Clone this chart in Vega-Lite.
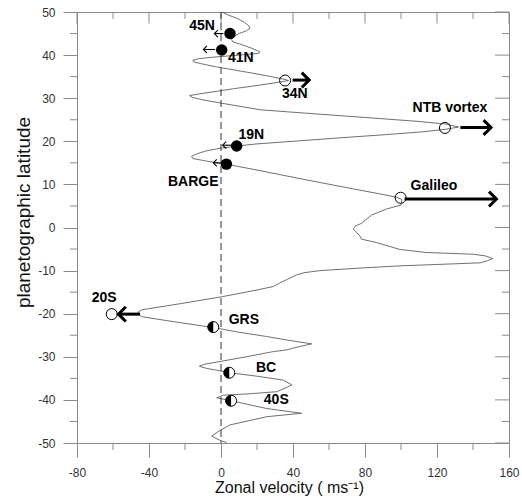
{
  "$schema": "https://vega.github.io/schema/vega-lite/v6.json",
  "width": 432,
  "height": 431,
  "autosize": {"type": "none"},
  "padding": {"left": 77, "top": 12, "right": 13, "bottom": 56},
  "background": "white",
  "config": {
    "view": {"stroke": "#8a8a8a", "strokeWidth": 1},
    "font": "Liberation Sans",
    "axis": {
      "domainColor": "#8a8a8a",
      "tickColor": "#8a8a8a",
      "labelColor": "#333333",
      "labelFontSize": 12,
      "labelFont": "Liberation Sans",
      "titleFont": "Liberation Sans",
      "titleColor": "#111111",
      "titleFontWeight": "normal",
      "labelFlush": false,
      "labelOverlap": false,
      "labelBound": false,
      "grid": false,
      "tickWidth": 1,
      "domainWidth": 1
    }
  },
  "datasets": {
    "profile": [
      {"lat": 50, "u": 0.4}, {"lat": 49.3, "u": 4}, {"lat": 48.5, "u": 9}, {"lat": 47.6, "u": 13},
      {"lat": 46.8, "u": 15.5}, {"lat": 46.2, "u": 16}, {"lat": 45.6, "u": 14}, {"lat": 45, "u": 10},
      {"lat": 44.3, "u": 7}, {"lat": 43.6, "u": 5.9}, {"lat": 43.1, "u": 6.5}, {"lat": 42.5, "u": 11},
      {"lat": 41.6, "u": 17}, {"lat": 40.8, "u": 21.5}, {"lat": 40.4, "u": 21}, {"lat": 40, "u": 10},
      {"lat": 39.6, "u": -2}, {"lat": 39.2, "u": -12}, {"lat": 38.8, "u": -15.7}, {"lat": 38.4, "u": -15},
      {"lat": 38, "u": -11}, {"lat": 37.3, "u": -3}, {"lat": 36.5, "u": 8}, {"lat": 35.7, "u": 19},
      {"lat": 35, "u": 28}, {"lat": 34.4, "u": 35}, {"lat": 34.1, "u": 37.5}, {"lat": 33.7, "u": 32},
      {"lat": 33, "u": 21}, {"lat": 32.2, "u": 7}, {"lat": 31.5, "u": -4}, {"lat": 31, "u": -12},
      {"lat": 30.6, "u": -17.5}, {"lat": 30.2, "u": -16}, {"lat": 29.6, "u": -10}, {"lat": 28.5, "u": 5},
      {"lat": 27.3, "u": 22}, {"lat": 26.5, "u": 48}, {"lat": 25.5, "u": 81}, {"lat": 24.6, "u": 110},
      {"lat": 24, "u": 125}, {"lat": 23.3, "u": 132}, {"lat": 22.8, "u": 125}, {"lat": 22.2, "u": 112},
      {"lat": 21.5, "u": 90}, {"lat": 20.8, "u": 66}, {"lat": 20, "u": 40}, {"lat": 19.4, "u": 20},
      {"lat": 18.9, "u": 8.7}, {"lat": 18.4, "u": 0}, {"lat": 17.8, "u": -8}, {"lat": 17, "u": -14},
      {"lat": 16.5, "u": -16.3}, {"lat": 16, "u": -15.7}, {"lat": 15.4, "u": -8}, {"lat": 14.9, "u": -0.6},
      {"lat": 14.7, "u": 3}, {"lat": 13, "u": 24}, {"lat": 11, "u": 48}, {"lat": 9, "u": 73},
      {"lat": 7.5, "u": 92}, {"lat": 7, "u": 97.6}, {"lat": 6.5, "u": 100.5}, {"lat": 5.2, "u": 100},
      {"lat": 4.3, "u": 92}, {"lat": 2.9, "u": 83.7}, {"lat": 2, "u": 81}, {"lat": 1, "u": 78.2},
      {"lat": 0.3, "u": 74.5}, {"lat": -0.4, "u": 73.5}, {"lat": -1.2, "u": 75.5}, {"lat": -2, "u": 77.2},
      {"lat": -2.7, "u": 78}, {"lat": -3.5, "u": 86.5}, {"lat": -4.3, "u": 93}, {"lat": -5.1, "u": 99.4},
      {"lat": -5.8, "u": 114}, {"lat": -6.2, "u": 140}, {"lat": -6.6, "u": 147}, {"lat": -7.2, "u": 151},
      {"lat": -7.7, "u": 148}, {"lat": -8.2, "u": 144}, {"lat": -8.5, "u": 125}, {"lat": -8.9, "u": 99.4},
      {"lat": -9.4, "u": 78}, {"lat": -10, "u": 55}, {"lat": -10.5, "u": 46}, {"lat": -11, "u": 42},
      {"lat": -12, "u": 37}, {"lat": -13, "u": 32}, {"lat": -13.7, "u": 29}, {"lat": -14.5, "u": 20},
      {"lat": -16, "u": 1.3}, {"lat": -17.5, "u": -20}, {"lat": -19.1, "u": -44}, {"lat": -19.6, "u": -46},
      {"lat": -20.2, "u": -45.5}, {"lat": -20.7, "u": -44}, {"lat": -22, "u": -24}, {"lat": -23.2, "u": -4.3},
      {"lat": -24.3, "u": 10}, {"lat": -25.3, "u": 25.4}, {"lat": -26.2, "u": 38}, {"lat": -27, "u": 50.4},
      {"lat": -27.5, "u": 45}, {"lat": -28, "u": 40}, {"lat": -28.4, "u": 36.5}, {"lat": -28.8, "u": 29},
      {"lat": -30, "u": 14}, {"lat": -31.1, "u": -0.6}, {"lat": -31.7, "u": -9}, {"lat": -32.2, "u": -12},
      {"lat": -32.7, "u": -8}, {"lat": -33.1, "u": -2.4}, {"lat": -33.7, "u": 4.6}, {"lat": -34.5, "u": 20},
      {"lat": -35.4, "u": 34.6}, {"lat": -36.5, "u": 39.3}, {"lat": -37, "u": 37}, {"lat": -38.1, "u": 31},
      {"lat": -38.6, "u": 15}, {"lat": -38.9, "u": 1.3}, {"lat": -39.5, "u": -2.4}, {"lat": -40.2, "u": 5.6},
      {"lat": -42, "u": 25.4}, {"lat": -43.1, "u": 44.8}, {"lat": -43.9, "u": 25.4}, {"lat": -45.8, "u": 5},
      {"lat": -47.1, "u": -0.6}, {"lat": -48.4, "u": -5.2}, {"lat": -49.3, "u": -1}, {"lat": -49.9, "u": 3.1}
    ],
    "markers": [
      {"name": "45N", "u": 5, "lat": 45, "kind": "filled", "lx": -10.5, "ly": 46.7},
      {"name": "41N", "u": 0.4, "lat": 41.2, "kind": "filled", "lx": 11, "ly": 39.3},
      {"name": "34N", "u": 35.6, "lat": 34.1, "kind": "open", "lx": 41, "ly": 31},
      {"name": "NTB vortex", "u": 124.4, "lat": 23.1, "kind": "open", "lx": 127.2, "ly": 27.8},
      {"name": "19N", "u": 8.7, "lat": 18.9, "kind": "filled", "lx": 16.8, "ly": 21.5},
      {"name": "BARGE", "u": 3, "lat": 14.7, "kind": "filled", "lx": -15.4, "ly": 10.6},
      {"name": "Galileo", "u": 99.8, "lat": 6.9, "kind": "open", "lx": 118.3, "ly": 9.7},
      {"name": "20S", "u": -60.7, "lat": -20.1, "kind": "open", "lx": -64.9, "ly": -16.3},
      {"name": "GRS", "u": -4.3, "lat": -23.1, "kind": "half", "lx": 12.7, "ly": -21.5},
      {"name": "BC", "u": 4.6, "lat": -33.7, "kind": "half", "lx": 25, "ly": -32.7},
      {"name": "40S", "u": 5.6, "lat": -40.2, "kind": "half", "lx": 30.7, "ly": -40}
    ],
    "arrows": [
      {"name": "45N", "lat": 45, "tail": 1.3, "head": -3.7, "weight": "thin", "dir": "left"},
      {"name": "41N", "lat": 41.3, "tail": -3.3, "head": -9.8, "weight": "thin", "dir": "left"},
      {"name": "19N", "lat": 19.1, "tail": 6.8, "head": 0.9, "weight": "thin", "dir": "left"},
      {"name": "BARGE", "lat": 15, "tail": 0.9, "head": -4.3, "weight": "thin", "dir": "left"},
      {"name": "34N", "lat": 34.2, "tail": 39.8, "head": 49, "weight": "bold", "dir": "right"},
      {"name": "NTB vortex", "lat": 23.2, "tail": 133, "head": 150, "weight": "bold", "dir": "right"},
      {"name": "Galileo", "lat": 6.6, "tail": 102, "head": 153, "weight": "bold", "dir": "right"},
      {"name": "20S", "lat": -20.1, "tail": -45, "head": -57, "weight": "bold", "dir": "left"}
    ],
    "xticks": [
      {"v": -80, "major": true}, {"v": -60, "major": false}, {"v": -40, "major": true}, {"v": -20, "major": false},
      {"v": 0, "major": true}, {"v": 20, "major": false}, {"v": 40, "major": true}, {"v": 60, "major": false},
      {"v": 80, "major": true}, {"v": 100, "major": false}, {"v": 120, "major": true}, {"v": 140, "major": false},
      {"v": 160, "major": true}
    ],
    "yticks": [
      {"v": -50, "major": true}, {"v": -45, "major": false}, {"v": -40, "major": true}, {"v": -35, "major": false},
      {"v": -30, "major": true}, {"v": -25, "major": false}, {"v": -20, "major": true}, {"v": -15, "major": false},
      {"v": -10, "major": true}, {"v": -5, "major": false}, {"v": 0, "major": true}, {"v": 5, "major": false},
      {"v": 10, "major": true}, {"v": 15, "major": false}, {"v": 20, "major": true}, {"v": 25, "major": false},
      {"v": 30, "major": true}, {"v": 35, "major": false}, {"v": 40, "major": true}, {"v": 45, "major": false},
      {"v": 50, "major": true}
    ],
    "zero": [{"u": 0}]
  },
  "layer": [
    {
      "data": {"name": "profile"},
      "mark": {"type": "line", "color": "#606060", "strokeWidth": 0.9},
      "encoding": {
        "x": {
          "field": "u", "type": "quantitative",
          "scale": {"domain": [-80, 160], "nice": false, "zero": false},
          "axis": {
            "orient": "bottom",
            "values": [-80, -40, 0, 40, 80, 120, 160],
            "tickSize": 14,
            "labelExpr": "toString(datum.value)",
            "labelPadding": 10,
            "title": "Zonal velocity ( ms⁻¹)",
            "titleFontSize": 16,
            "titlePadding": 1,
            "titleX": 212
          }
        },
        "y": {
          "field": "lat", "type": "quantitative",
          "scale": {"domain": [-50, 50], "nice": false, "zero": false},
          "axis": {
            "orient": "left",
            "values": [-50, -40, -30, -20, -10, 0, 10, 20, 30, 40, 50],
            "tickSize": 14,
            "labelExpr": "toString(datum.value)",
            "labelPadding": 8,
            "title": "planetographic latitude",
            "titleFontSize": 19,
            "titlePadding": 4,
            "titleY": 200
          }
        },
        "order": {"field": "lat", "sort": "descending"}
      }
    },
    {
      "data": {"name": "xticks"},
      "transform": [{"filter": "!datum.major"}],
      "mark": {"type": "rule", "color": "#8a8a8a", "strokeWidth": 1},
      "encoding": {
        "x": {"field": "v", "type": "quantitative"},
        "y": {"datum": -50, "type": "quantitative"},
        "y2": {"datum": -51.62}
      }
    },
    {
      "data": {"name": "xticks"},
      "transform": [{"filter": "datum.major"}],
      "mark": {"type": "rule", "color": "#8a8a8a", "strokeWidth": 1},
      "encoding": {
        "x": {"field": "v", "type": "quantitative"},
        "y": {"datum": 50, "type": "quantitative"},
        "y2": {"datum": 47.3}
      }
    },
    {
      "data": {"name": "xticks"},
      "transform": [{"filter": "!datum.major"}],
      "mark": {"type": "rule", "color": "#8a8a8a", "strokeWidth": 1},
      "encoding": {
        "x": {"field": "v", "type": "quantitative"},
        "y": {"datum": 50, "type": "quantitative"},
        "y2": {"datum": 48.38}
      }
    },
    {
      "data": {"name": "yticks"},
      "transform": [{"filter": "!datum.major"}],
      "mark": {"type": "rule", "color": "#8a8a8a", "strokeWidth": 1},
      "encoding": {
        "y": {"field": "v", "type": "quantitative"},
        "x": {"datum": -80, "type": "quantitative"},
        "x2": {"datum": -83.9}
      }
    },
    {
      "data": {"name": "yticks"},
      "transform": [{"filter": "datum.major"}],
      "mark": {"type": "rule", "color": "#8a8a8a", "strokeWidth": 1},
      "encoding": {
        "y": {"field": "v", "type": "quantitative"},
        "x": {"datum": 160, "type": "quantitative"},
        "x2": {"datum": 152.2}
      }
    },
    {
      "data": {"name": "yticks"},
      "transform": [{"filter": "!datum.major"}],
      "mark": {"type": "rule", "color": "#8a8a8a", "strokeWidth": 1},
      "encoding": {
        "y": {"field": "v", "type": "quantitative"},
        "x": {"datum": 160, "type": "quantitative"},
        "x2": {"datum": 156.1}
      }
    },
    {
      "data": {"name": "zero"},
      "mark": {"type": "rule", "color": "#333333", "strokeWidth": 1, "strokeDash": [7, 4]},
      "encoding": {
        "x": {"field": "u", "type": "quantitative"},
        "y": {"datum": 50, "type": "quantitative"},
        "y2": {"datum": -50}
      }
    },
    {
      "data": {"name": "arrows"},
      "transform": [{"filter": "datum.weight === 'thin'"}],
      "mark": {"type": "rule", "color": "black", "strokeWidth": 1.1},
      "encoding": {
        "x": {"field": "tail", "type": "quantitative"},
        "x2": {"field": "head"},
        "y": {"field": "lat", "type": "quantitative"}
      }
    },
    {
      "data": {"name": "arrows"},
      "transform": [{"filter": "datum.weight === 'thin'"}],
      "mark": {"type": "point", "shape": "M1,-1L0,0L1,1", "filled": false, "stroke": "black", "strokeWidth": 1.1, "size": 50, "opacity": 1},
      "encoding": {
        "x": {"field": "head", "type": "quantitative"},
        "y": {"field": "lat", "type": "quantitative"}
      }
    },
    {
      "data": {"name": "arrows"},
      "transform": [{"filter": "datum.weight === 'bold'"}],
      "mark": {"type": "rule", "color": "black", "strokeWidth": 3},
      "encoding": {
        "x": {"field": "tail", "type": "quantitative"},
        "x2": {"field": "head"},
        "y": {"field": "lat", "type": "quantitative"}
      }
    },
    {
      "data": {"name": "arrows"},
      "transform": [{"filter": "datum.weight === 'bold' && datum.dir === 'right'"}],
      "mark": {"type": "point", "shape": "M-1,-1L0,0L-1,1", "filled": false, "stroke": "black", "strokeWidth": 3, "size": 220, "opacity": 1},
      "encoding": {
        "x": {"field": "head", "type": "quantitative"},
        "y": {"field": "lat", "type": "quantitative"}
      }
    },
    {
      "data": {"name": "arrows"},
      "transform": [{"filter": "datum.weight === 'bold' && datum.dir === 'left'"}],
      "mark": {"type": "point", "shape": "M1,-1L0,0L1,1", "filled": false, "stroke": "black", "strokeWidth": 3, "size": 220, "opacity": 1},
      "encoding": {
        "x": {"field": "head", "type": "quantitative"},
        "y": {"field": "lat", "type": "quantitative"}
      }
    },
    {
      "data": {"name": "markers"},
      "transform": [{"filter": "datum.kind === 'filled'"}],
      "mark": {"type": "point", "shape": "circle", "filled": true, "color": "black", "size": 130, "opacity": 1},
      "encoding": {
        "x": {"field": "u", "type": "quantitative"},
        "y": {"field": "lat", "type": "quantitative"}
      }
    },
    {
      "data": {"name": "markers"},
      "transform": [{"filter": "datum.kind === 'open'"}],
      "mark": {"type": "point", "shape": "circle", "filled": false, "stroke": "black", "strokeWidth": 1, "size": 121, "opacity": 1},
      "encoding": {
        "x": {"field": "u", "type": "quantitative"},
        "y": {"field": "lat", "type": "quantitative"}
      }
    },
    {
      "data": {"name": "markers"},
      "transform": [{"filter": "datum.kind === 'half'"}],
      "mark": {"type": "point", "shape": "circle", "filled": true, "fill": "white", "stroke": "black", "strokeWidth": 1, "size": 121, "opacity": 1},
      "encoding": {
        "x": {"field": "u", "type": "quantitative"},
        "y": {"field": "lat", "type": "quantitative"}
      }
    },
    {
      "data": {"name": "markers"},
      "transform": [{"filter": "datum.kind === 'half'"}],
      "mark": {"type": "point", "shape": "M0,-1A1,1,0,0,0,0,1Z", "filled": true, "fill": "black", "strokeWidth": 0, "size": 121, "opacity": 1},
      "encoding": {
        "x": {"field": "u", "type": "quantitative"},
        "y": {"field": "lat", "type": "quantitative"}
      }
    },
    {
      "data": {"name": "markers"},
      "mark": {"type": "text", "font": "Liberation Sans", "fontWeight": "bold", "fontSize": 14, "color": "black", "align": "center", "baseline": "middle"},
      "encoding": {
        "x": {"field": "lx", "type": "quantitative"},
        "y": {"field": "ly", "type": "quantitative"},
        "text": {"field": "name"}
      }
    }
  ]
}
